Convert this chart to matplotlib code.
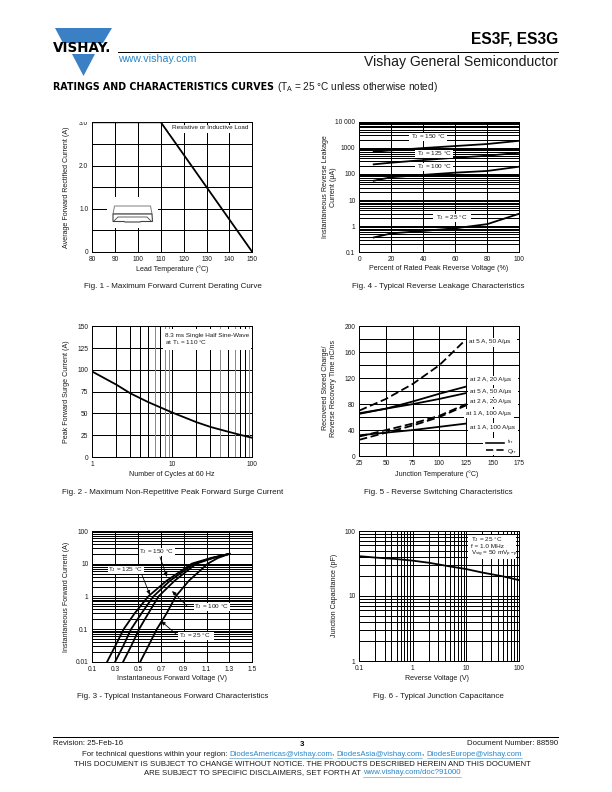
import matplotlib

matplotlib.use("Agg")
import matplotlib.pyplot as plt
from matplotlib.patches import Polygon, Rectangle

plt.rcParams["font.family"] = ["Liberation Sans", "DejaVu Sans"]
plt.rcParams["mathtext.default"] = "regular"

INK = "#1a1a1a"
BLUE = "#3b7fc4"
LINK = "#2a86c8"
LABEL_SIZE = 7.1
CAPTION_SIZE = 8.0
NOTE_SIZE = 6.4
FOOT_SIZE = 7.8

# Fig. 1
derating_temp = [80, 110, 150]
derating_current = [3.0, 3.0, 0.0]

# Fig. 2
surge_cycles = [1, 2, 3, 5, 10, 20, 30, 50, 70, 100]
surge_current = [98, 83, 73, 63, 51, 40, 34.5, 29, 25.5, 22]

# Fig. 3
forward_current = [0.01, 0.03, 0.1, 0.3, 1, 3, 10, 15, 20]
forward_150 = [0.23, 0.30, 0.375, 0.47, 0.59, 0.75, 0.97, 1.14, 1.30]
forward_125 = [0.30, 0.37, 0.44, 0.53, 0.635, 0.78, 0.99, 1.15, 1.30]
forward_100 = [0.37, 0.44, 0.51, 0.59, 0.68, 0.82, 1.01, 1.16, 1.30]
forward_25 = [0.52, 0.59, 0.665, 0.75, 0.83, 0.945, 1.11, 1.20, 1.30]

# Fig. 4
leak_percent = [9, 20, 40, 60, 80, 100]
leak_150 = [710, 800, 980, 1170, 1400, 1860]
leak_125 = [233, 270, 340, 417, 500, 645]
leak_100 = [55, 75, 92, 112, 130, 190]
leak_25 = [0.37, 0.53, 0.66, 0.83, 1.2, 3.0]

# Fig. 5
switch_temp = [25, 50, 75, 100, 125]
trr_2a = [65, 73, 84, 96, 107]
trr_5a = [66, 73, 80, 88, 97]
trr_1a = [32, 36, 40, 45, 50]
qrr_2a = [30, 40, 50, 62, 80]
qrr_1a = [25, 36, 47, 60, 78]
qrr_5a_temp = [25, 50, 75, 100, 122]
qrr_5a = [70, 88, 111, 140, 175]

# Fig. 6
cap_voltage = [0.1, 0.2, 0.5, 1, 2, 5, 10, 20, 50, 100]
cap_value = [41, 39, 37, 35, 32.5, 28.5, 26, 23, 20, 17.5]

PAGE_W = 612
PAGE_H = 792

fig = plt.figure(figsize=(PAGE_W / 72, PAGE_H / 72), dpi=72)


def make_axes(left, top, right, bottom):
    ax = fig.add_axes(
        [left / PAGE_W, 1 - bottom / PAGE_H, (right - left) / PAGE_W, (bottom - top) / PAGE_H]
    )
    ax.tick_params(which="both", length=0, labelsize=6.6, labelcolor=INK, pad=4)
    ax.minorticks_off()
    for spine in ax.spines.values():
        spine.set_linewidth(1.0)
    ax.set_axisbelow(True)
    return ax


def grid_lines(ax, xs=(), ys=(), lw=1.0):
    for x in xs:
        ax.axvline(x, color="black", lw=lw, zorder=1)
    for y in ys:
        ax.axhline(y, color="black", lw=lw, zorder=1)


def log_lines(lo_exp, hi_exp):
    values = []
    for exp in range(lo_exp, hi_exp):
        for m in range(1, 10):
            values.append(m * 10.0**exp)
    return values[1:]


def curve(ax, x, y, style="-", lw=1.8):
    if style == "--":
        ax.plot(x, y, color="black", lw=lw, dashes=(4.5, 2), zorder=3)
    else:
        ax.plot(x, y, color="black", lw=lw, zorder=3)


# Fig. 1
ax1 = make_axes(92.3, 122.3, 252.3, 252)
ax1.set_xlim(80, 150)
ax1.set_ylim(0, 3)
ax1.set_xticks(range(80, 151, 10))
ax1.set_yticks([0, 1, 2, 3], ["0", "1.0", "2.0", "3.0"])
grid_lines(ax1, range(90, 150, 10), [0.5, 1, 1.5, 2, 2.5])
curve(ax1, derating_temp, derating_current)

# Fig. 4
ax4 = make_axes(359.3, 121.7, 519.3, 252.3)
ax4.set_yscale("log")
ax4.minorticks_off()
ax4.set_xlim(0, 100)
ax4.set_ylim(0.1, 10000)
ax4.set_xticks(range(0, 101, 20))
ax4.set_yticks([0.1, 1, 10, 100, 1000, 10000], ["0.1", "1", "10", "100", "1000", "10 000"])
ax4.minorticks_off()
grid_lines(ax4, range(20, 100, 20), log_lines(-1, 4))
for series in (leak_150, leak_125, leak_100, leak_25):
    curve(ax4, leak_percent, series)

# Fig. 2
ax2 = make_axes(92.3, 326.3, 252.3, 457)
ax2.set_xscale("log")
ax2.set_xlim(1, 100)
ax2.set_ylim(0, 150)
ax2.set_xticks([1, 10, 100], ["1", "10", "100"])
ax2.set_yticks(range(0, 151, 25))
ax2.minorticks_off()
grid_lines(ax2, [], range(25, 150, 25))
for x in log_lines(0, 2):
    ax2.axvline(x, color="#8a8a8a" if x in (6, 8, 9, 40, 60, 90) else "black", lw=1.0, zorder=1)
curve(ax2, surge_cycles, surge_current)

# Fig. 5
ax5 = make_axes(359.3, 326.3, 519.3, 456)
ax5.set_xlim(25, 175)
ax5.set_ylim(0, 200)
ax5.set_xticks(range(25, 176, 25))
ax5.set_yticks(range(0, 201, 40))
grid_lines(ax5, range(50, 175, 25), range(20, 200, 20))
for series in (trr_2a, trr_5a, trr_1a):
    curve(ax5, switch_temp, series)
for series in (qrr_2a, qrr_1a):
    curve(ax5, switch_temp, series, "--")
curve(ax5, qrr_5a_temp, qrr_5a, "--")

# Fig. 3
ax3 = make_axes(92.3, 531, 252.3, 661.7)
ax3.set_yscale("log")
ax3.set_xlim(0.1, 1.5)
ax3.set_ylim(0.01, 100)
ax3.set_xticks([0.1, 0.3, 0.5, 0.7, 0.9, 1.1, 1.3, 1.5])
ax3.set_xticklabels(["0.1", "0.3", "0.5", "0.7", "0.9", "1.1", "1.3", "1.5"])
ax3.set_yticks([0.01, 0.1, 1, 10, 100], ["0.01", "0.1", "1", "10", "100"])
ax3.minorticks_off()
grid_lines(ax3, [0.3, 0.5, 0.7, 0.9, 1.1, 1.3], log_lines(-2, 2))
for series in (forward_150, forward_125, forward_100, forward_25):
    curve(ax3, series, forward_current)

# Fig. 6
ax6 = make_axes(359.3, 531, 519.3, 661)
ax6.set_xscale("log")
ax6.set_yscale("log")
ax6.set_xlim(0.1, 100)
ax6.set_ylim(1, 100)
ax6.set_xticks([0.1, 1, 10, 100], ["0.1", "1", "10", "100"])
ax6.set_yticks([1, 10, 100], ["1", "10", "100"])
ax6.minorticks_off()
grid_lines(ax6, log_lines(-1, 2), log_lines(0, 2))
curve(ax6, cap_voltage, cap_value)

# everything else sits on one overlay in page pixels
page = fig.add_axes([0, 0, 1, 1], zorder=10)
page.set_xlim(0, PAGE_W)
page.set_ylim(PAGE_H, 0)
page.axis("off")
page.patch.set_alpha(0)


def put(x, y, s, size=LABEL_SIZE, ha="center", va="center", **kw):
    kw.setdefault("color", INK)
    return page.text(x, y, s, fontsize=size, ha=ha, va=va, **kw)


def white(x0, y0, x1, y1):
    page.add_patch(Rectangle((x0, y0), x1 - x0, y1 - y0, fc="white", ec="none", zorder=1))


def run(x, y, parts, size, center=False):
    renderer = fig.canvas.get_renderer()
    items = []
    total = 0
    for s, is_link in parts:
        t = put(x, y, s, size=size, ha="left", color=LINK if is_link else INK, zorder=3)
        width = t.get_window_extent(renderer).width
        items.append((t, width, is_link))
        total += width
    cur = x - total / 2 if center else x
    for t, width, is_link in items:
        t.set_x(cur)
        if is_link:
            page.plot([cur, cur + width], [y + size * 0.55] * 2, color=LINK, lw=0.5, zorder=3)
        cur += width


def arrow(x0, y0, x1, y1):
    page.annotate(
        "",
        xy=(x1, y1),
        xytext=(x0, y0),
        arrowprops=dict(arrowstyle="-|>,head_length=0.35,head_width=0.15", color="black", lw=0.8, shrinkA=0, shrinkB=0),
        zorder=4,
    )


# logo and header
page.add_patch(Polygon([(55, 28), (112, 28), (103, 43), (63, 43)], fc=BLUE, ec="none"))
page.add_patch(Polygon([(72, 54), (95, 54), (83.5, 76)], fc=BLUE, ec="none"))
white(50, 43.5, 115, 53.5)
put(82, 48.5, "VISHAY.", size=13.5, weight="bold", color="black", family="DejaVu Sans")
put(118, 58.5, "www.vishay.com", size=10.6, ha="left", color=LINK)
page.plot([118, 558], [52.3, 52.3], color="black", lw=1.0)
put(558, 39, "ES3F, ES3G", size=15.5, ha="right", weight="bold", color="black")
put(558, 62, "Vishay General Semiconductor", size=14, ha="right")
put(53, 87, "RATINGS AND CHARACTERISTICS CURVES", size=9.5, ha="left", weight="bold", color="black", family="DejaVu Sans")
put(277, 87, "(T$_A$ = 25 °C unless otherwise noted)", size=10, ha="left")

# Fig. 1 text
white(65, 116, 90, 122)
white(169, 124.5, 251.5, 133)
put(210, 127.5, "Resistive or Inductive Load", size=NOTE_SIZE)
white(107, 197, 158, 228)
page.add_patch(Polygon([(114.5, 206), (150.5, 206), (152, 214), (113, 214)], fc="white", ec="#808080", lw=1.0, zorder=2))
page.add_patch(Polygon(
    [(113, 214), (152, 214), (152.5, 221.5), (141, 221.5), (140, 222), (125, 222), (124, 221.5), (113, 221.5)],
    fc="white", ec="#404040", lw=1.1, zorder=2,
))
page.plot([114, 118, 147, 151], [221, 217, 217, 221], color="#404040", lw=0.8, zorder=3)
put(172.5, 269, "Lead Temperature (°C)")
put(67, 187, "Average Forward Rectified Current (A)", rotation=90)
put(172.5, 287, "Fig. 1 - Maximum Forward Current Derating Curve", size=CAPTION_SIZE)

# Fig. 4 text
for x, y, label in [(428, 137, "150"), (434, 154, "125"), (434, 167, "100"), (452, 218, "25")]:
    white(x - 19, y - 4, x + 19, y + 4)
    put(x, y, f"T$_J$ = {label} °C", size=NOTE_SIZE)
put(439, 269, "Percent of Rated Peak Reverse Voltage (%)")
put(329.5, 187, "Instantaneous Reverse Leakage\nCurrent (µA)", rotation=90, linespacing=1.1, multialignment="center")
put(438, 287, "Fig. 4 - Typical Reverse Leakage Characteristics", size=CAPTION_SIZE)

# Fig. 2 text
white(163, 329, 251, 350)
put(165, 336, "8.3 ms Single Half Sine-Wave", size=NOTE_SIZE, ha="left")
put(165, 343, "at T$_L$ = 110 °C", size=NOTE_SIZE, ha="left")
put(172, 474, "Number of Cycles at 60 Hz")
put(66, 392, "Peak Forward Surge Current (A)", rotation=90)
put(172.5, 492, "Fig. 2 - Maximum Non-Repetitive Peak Forward Surge Current", size=CAPTION_SIZE)

# Fig. 5 text
for x, y, label in [
    (469, 342, "at 5 A, 50 A/µs"),
    (470, 380, "at 2 A, 20 A/µs"),
    (470, 392, "at 5 A, 50 A/µs"),
    (470, 402, "at 2 A, 20 A/µs"),
    (466, 413, "at 1 A, 100 A/µs"),
    (470, 427, "at 1 A, 100 A/µs"),
]:
    white(x - 2, y - 4.5, x + 48, y + 4.5)
    put(x, y, label, size=NOTE_SIZE, ha="left")
white(483, 438, 518.5, 455)
page.plot([486, 504], [443, 443], color="black", lw=1.6, zorder=3)
page.plot([486, 504], [450, 450], color="black", lw=1.6, dashes=(4.5, 2), zorder=3)
put(507, 442, "t$_{rr}$", size=6.2, ha="left")
put(507, 451, "Q$_{rr}$", size=6.2, ha="left")
put(437, 474, "Junction Temperature (°C)")
put(329.5, 388, "Recovered Stored Charge/\nReverse Recovery Time nC/ns", rotation=90, linespacing=1.1, multialignment="center")
put(438, 492, "Fig. 5 - Reverse Switching Characteristics", size=CAPTION_SIZE)

# Fig. 3 text
for x, y, label in [(156, 552, "150"), (125, 570, "125"), (211, 607, "100"), (195, 636, "25")]:
    white(x - 17, y - 4, x + 19, y + 4)
    put(x, y, f"T$_J$ = {label} °C", size=NOTE_SIZE, zorder=3)
arrow(160, 557, 167, 577)
arrow(142, 575, 150, 595)
arrow(187, 606, 172, 591)
arrow(176, 634, 161, 621)
put(172, 679, "Instantaneous Forward Voltage (V)")
put(67, 597, "Instantaneous Forward Current (A)", rotation=90)
put(172.5, 696, "Fig. 3 - Typical Instantaneous Forward Characteristics", size=CAPTION_SIZE)

# Fig. 6 text
white(468, 535, 516, 559)
put(471, 539.5, "T$_J$ = 25 °C", size=NOTE_SIZE, ha="left")
put(471, 546, "f = 1.0 MHz", size=NOTE_SIZE, ha="left")
put(471, 553.5, "V$_{sig}$ = 50 mV$_{p-p}$", size=NOTE_SIZE, ha="left")
put(437, 679, "Reverse Voltage (V)")
put(334, 595, "Junction Capacitance (pF)", rotation=90)
put(438, 696, "Fig. 6 - Typical Junction Capacitance", size=CAPTION_SIZE)

# footer
page.plot([53, 558], [737.3, 737.3], color="black", lw=1.0)
put(53, 743.3, "Revision: 25-Feb-16", size=FOOT_SIZE, ha="left")
put(302, 744, "3", size=FOOT_SIZE, weight="bold", color="black")
put(558, 743.3, "Document Number: 88590", size=FOOT_SIZE, ha="right")
fig.canvas.draw()
run(302, 754, [
    ("For technical questions within your region: ", False),
    ("DiodesAmericas@vishay.com", True),
    (", ", False),
    ("DiodesAsia@vishay.com", True),
    (", ", False),
    ("DiodesEurope@vishay.com", True),
], FOOT_SIZE, center=True)
put(302.5, 765, "THIS DOCUMENT IS SUBJECT TO CHANGE WITHOUT NOTICE. THE PRODUCTS DESCRIBED HEREIN AND THIS DOCUMENT", size=FOOT_SIZE)
run(302.5, 773, [
    ("ARE SUBJECT TO SPECIFIC DISCLAIMERS, SET FORTH AT ", False),
    ("www.vishay.com/doc?91000", True),
], FOOT_SIZE, center=True)

fig.savefig("out.png", dpi=72)
